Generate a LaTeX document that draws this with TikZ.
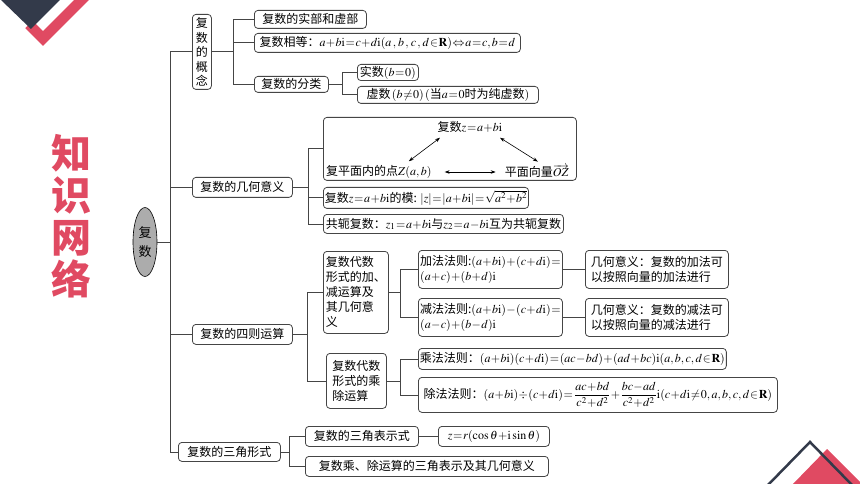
\documentclass[tikz,border=0pt]{standalone}
\usepackage{mathptmx}
\usepackage[no-math]{fontspec}
\setmainfont{Noto Sans CJK SC}
\usetikzlibrary{shapes.geometric,arrows.meta,calc}
\definecolor{accent}{HTML}{E04A62}
\definecolor{navy}{HTML}{333A4A}
\definecolor{lineg}{HTML}{454545}
\medmuskip=0.5mu plus 0.5mu
\thickmuskip=1mu plus 1mu
\begin{document}
\begin{tikzpicture}[x=1pt,y=-1pt,
  box/.style={draw=lineg, line width=0.8pt, rounded corners=3.5pt, fill=white,
    inner sep=1.5pt, anchor=north west, font=\fontsize{12}{15}\selectfont},
  bx/.style n args={2}{minimum width=#1, minimum height=#2},
  conn/.style={draw=lineg, line width=0.8pt},
  plain/.style={inner sep=2pt, font=\fontsize{12}{15}\selectfont},
  dbl/.style={draw=black, line width=0.6pt, {Stealth[length=5pt,width=3.5pt]}-{Stealth[length=5pt,width=3.5pt]}},
  ]
\useasboundingbox (0,0) rectangle (860,484);
% decorations
\begin{scope}
\clip (0,0) rectangle (860,484);
\draw[accent, line width=10.6pt] (29,24.5) -- (43,38.5) -- (90,-8.5);
\fill[navy] (0,-1) -- (61,-1) -- (31,29) -- cycle;
\fill[accent] (792,485) -- (827,449) -- (863,485) -- cycle;
\draw[navy, line width=2.5pt] (767,486) -- (810,442) -- (853,486);
\end{scope}
% title
\node[text=accent, font=\bfseries\fontsize{40}{42}\selectfont, align=center, inner sep=0] (title) at (71,216) {知\\识\\网\\络};
% root
\node[ellipse, draw=black, line width=0.6pt, fill=gray!65, minimum width=24, minimum height=69, inner sep=0, align=center, font=\fontsize{13}{19}\selectfont] (root) at (145,242) {复\\数};
% level 1
\node[box, bx={19}{75}, align=center, font=\fontsize{12}{14.5}\selectfont] (c1) at (192,14) {复\\数\\的\\概\\念};
\node[box, bx={100}{20}] (c2) at (192,177) {复数的几何意义};
\node[box, bx={100}{20}] (c3) at (192,324) {复数的四则运算};
\node[box, bx={102}{19}] (c4) at (178,442) {复数的三角形式};
% concept children
\node[box, bx={112}{18}] (a1) at (254,10) {复数的实部和虚部};
\node[box, bx={266}{19}] (a2) at (254,33) {复数相等：$a+b\mathrm{i}=c+d\mathrm{i}(a\,,\;b\,,\;c\,,\;d\in\mathbf{R})\Leftrightarrow a=c,b=d$};
\node[box, bx={74}{16}] (a3) at (254,76) {复数的分类};
\node[box, bx={61}{16}] (a31) at (357,64) {实数$(b=0)$};
\node[box, bx={181}{17}] (a32) at (357,86) {虚数$\,(b\neq 0)\,($当$a=0$时为纯虚数$)$};
% geometric meaning children
\node[box, bx={253}{63}] (b1) at (323,117) {};
\node[plain] (bt) at (470,127) {复数$z=a+b\mathrm{i}$};
\node[plain, anchor=west] (bl) at (324,172) {复平面内的点$Z(a,b)$};
\node[plain, anchor=east] (br) at (571,171) {平面向量$\overrightarrow{OZ}$};
\node[box, bx={189}{21}] (b2) at (323,187) {复数$z=a+b\mathrm{i}$的模: $|z|=|a+b\mathrm{i}|=\sqrt{a^2+b^2}$};
\node[box, bx={240}{19}] (b3) at (323,214) {共轭复数：$z_1=a+b\mathrm{i}$与$z_2=a-b\mathrm{i}$互为共轭复数};
% arithmetic children
\node[box, bx={65}{82}, align=left] (d1) at (323,251) {复数代数\\形式的加、\\减运算及\\其几何意\\义};
\node[box, bx={60}{55}, align=left] (d2) at (326,353) {复数代数\\形式的乘\\除运算};
\node[box, bx={144}{38}, align=left] (e1) at (418,250) {加法法则:$(a+b\mathrm{i})+(c+d\mathrm{i})=$\\$(a+c)+(b+d)\mathrm{i}$};
\node[box, bx={144}{38}, align=left] (e2) at (418,298) {减法法则:$(a+b\mathrm{i})-(c+d\mathrm{i})=$\\$(a-c)+(b-d)\mathrm{i}$};
\node[box, bx={143}{38}, align=left] (f1) at (585,250) {几何意义：复数的加法可\\以按照向量的加法进行};
\node[box, bx={143}{38}, align=left] (f2) at (585,298) {几何意义：复数的减法可\\以按照向量的减法进行};
\node[box, bx={291}{21}] (g1) at (418,348) {乘法法则：$(a+b\mathrm{i})(c+d\mathrm{i})=(ac-bd)+(ad+bc)\mathrm{i}(a,b,c,d\in\mathbf{R})$};
\node[box, bx={359}{35}] (g2) at (418,377) {除法法则：$(a+b\mathrm{i})\div(c+d\mathrm{i})=\;\displaystyle\frac{ac+bd}{c^2+d^2}+\frac{bc-ad}{c^2+d^2}\mathrm{i}(c+d\mathrm{i}\neq0,a,b,c,d\in\mathbf{R})$};
% trig children
\node[box, bx={113}{20}] (h1) at (305,426) {复数的三角表示式};
\node[box, bx={111}{20}] (h2) at (438,426) {$z=r(\cos\theta+\mathrm{i}\sin\theta)$};
\node[box, bx={243}{20}] (h3) at (305,456) {复数乘、除运算的三角表示及其几何意义};
% junction coordinates
\coordinate (t) at (170,0);
\coordinate (j1) at (233,0);
\coordinate (j2) at (342,0);
\coordinate (j3) at (308,0);
\coordinate (j4) at (307,0);
\coordinate (j5) at (400,0);
\coordinate (j7) at (289,0);
% trunk
\draw[conn] (c1.west) -- (c1.west -| t) -- (c4.west -| t) -- (c4.west);
\draw[conn] (root.east) -- (root.east -| t);
\draw[conn] (c2.west) -- (c2.west -| t);
\draw[conn] (c3.west) -- (c3.west -| t);
% concept
\draw[conn] (c1.east) -- (c1.east -| j1);
\draw[conn] (a1.west) -- (a1.west -| j1) -- (a3.west -| j1) -- (a3.west);
\draw[conn] (a2.west) -- (a2.west -| j1);
\draw[conn] (a3.east) -- (a3.east -| j2);
\draw[conn] (a31.west) -- (a31.west -| j2) -- (a32.west -| j2) -- (a32.west);
% geometric
\draw[conn] (c2.east) -- (c2.east -| j3);
\draw[conn] (b1.west) -- (b1.west -| j3) -- (b3.west -| j3) -- (b3.west);
\draw[conn] (b2.west) -- (b2.west -| j3);
\draw[dbl] ($(bt.south)+(-30,3)$) -- ($(bl.north)+(30,-2)$);
\draw[dbl] ($(bt.south)+(30,3)$) -- ($(br.north)+(1,-1)$);
\draw[dbl] ($(bl.east)+(11,0)$) -- ($(br.west)+(-7,1)$);
% arithmetic
\draw[conn] (c3.east) -- (c3.east -| j4);
\draw[conn] (d1.west) -- (d1.west -| j4) -- (d2.west -| j4) -- (d2.west);
\draw[conn] (d1.east) -- (d1.east -| j5);
\draw[conn] (e1.west) -- (e1.west -| j5) -- (e2.west -| j5) -- (e2.west);
\draw[conn] (e1.east) -- (f1.west);
\draw[conn] (e2.east) -- (f2.west);
\draw[conn] (d2.east) -- (d2.east -| j5);
\draw[conn] (g1.west) -- (g1.west -| j5) -- (g2.west -| j5) -- (g2.west);
% trig
\draw[conn] (c4.east) -- (c4.east -| j7);
\draw[conn] (h1.west) -- (h1.west -| j7) -- (h3.west -| j7) -- (h3.west);
\draw[conn] (h1.east) -- (h2.west);
\end{tikzpicture}
\end{document}
